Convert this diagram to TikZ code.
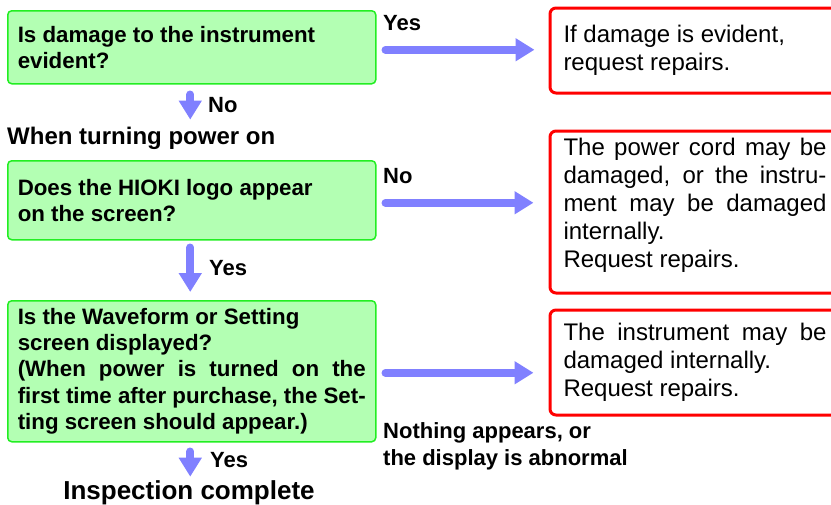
\documentclass[tikz,border=0pt]{standalone}
\usepackage{fontspec}
\setmainfont{Liberation Sans}
\usetikzlibrary{arrows.meta, positioning, calc}
\usepackage{xcolor}
\definecolor{CheckGreen}{HTML}{22EE22}
\definecolor{CheckFill}{HTML}{B3FFB3}
\definecolor{CheckRed}{HTML}{FF0000}
\definecolor{CheckArrow}{HTML}{8080FF}
\newcommand{\justline}[2][263pt]{\makebox[#1][s]{\spaceskip=0pt\xspaceskip=0pt #2}}
\tikzset{
    % Box styles - rounded corners
    question/.style={
        rectangle,
        rounded corners=4pt,
        draw=CheckGreen,
        fill=CheckFill,
        line width=1.5pt,
        text width=348pt,
        inner xsep=10pt,
        inner ysep=0pt,
        align=left,
        anchor=north west,
        execute at begin node={\spaceskip=0pt \xspaceskip=0pt},
        font=\bfseries\fontsize{22.3}{26.3}\selectfont
    },
    answer/.style={
        rectangle,
        rounded corners=6pt,
        draw=CheckRed,
        fill=white,
        line width=3pt,
        text width=263pt,
        inner xsep=13.5pt,
        inner ysep=0pt,
        align=left,
        anchor=north west,
        execute at begin node={\spaceskip=0pt \xspaceskip=0pt},
        font=\fontsize{24}{28}\selectfont
    },
    % Text styles
    branch/.style={
        inner sep=0pt,
        align=left,
        font=\bfseries\fontsize{22}{27}\selectfont
    },
    heading/.style={
        inner sep=0pt,
        font=\bfseries\fontsize{24}{28}\selectfont
    },
    % Arrow style - thick blue
    flowarrow/.style={
        -{Triangle[width=22pt,length=19pt]},
        line width=8pt,
        line cap=round,
        draw=CheckArrow
    }
}
\begin{document}
\begin{tikzpicture}[x=1pt, y=-1pt]
    \path[use as bounding box, clip] (0,0) rectangle (831,504);

    % Questions
    \node[question, minimum height=73pt] (q1) at (7,10) {Is damage to the instrument\\evident?};
    \node[heading, anchor=west] (power) at (7,138) {When turning power on};
    \node[question, minimum height=79pt] (q2) at (7,160) {Does the HIOKI logo appear\\on the screen?};
    \node[question, minimum height=141pt] (q3) at (7,300) {Is the Waveform or Setting\\screen displayed?\\\justline[348pt]{(When power is turned on the}\\\justline[348pt]{first time after purchase, the Set-}\\ting screen should appear.)};
    \node[heading, font=\bfseries\fontsize{26}{30}\selectfont] (done) at (189,493) {Inspection complete};

    % Results
    \node[answer, minimum height=85pt] (a1) at (548.5,6.5) {If damage is evident,\\request repairs.};
    \node[answer, minimum height=162pt] (a2) at (548.5,129.5) {\justline{The power cord may be}\\\justline{damaged, or the instru-}\\\justline{ment may be damaged}\\internally.\\Request repairs.\rule[-18pt]{0pt}{1pt}};
    \node[answer, minimum height=105pt] (a3) at (548.5,308.5) {\justline{The instrument may be}\\damaged internally.\\Request repairs.};

    % Arrows to results
    \coordinate (s1) at ([xshift=9pt, yshift=-2.5pt]q1.east);
    \coordinate (s2) at ([xshift=9pt, yshift=-2.5pt]q2.east);
    \coordinate (s3) at ([xshift=9pt, yshift=-1.5pt]q3.east);
    \draw[flowarrow, shorten >=14pt] (s1) -- (s1 -| a1.west);
    \draw[flowarrow, shorten >=15pt] (s2) -- (s2 -| a2.west);
    \draw[flowarrow, shorten >=15pt] (s3) -- (s3 -| a3.west);
    \node[branch, anchor=west] (yes1) at (383,23) {Yes};
    \node[branch, anchor=west] (no2) at (383,176) {No};
    \node[branch, anchor=west] (none3) at (383,446.5) {Nothing appears, or\\the display is abnormal};

    % Arrows down the checks
    \coordinate (c1) at ([xshift=-1.5pt]q1.south);
    \coordinate (c2) at ([xshift=-1.5pt]q2.south);
    \coordinate (c3) at ([xshift=-1.5pt]q3.south);
    \draw[flowarrow, shorten <=10pt, shorten >=7pt] (c1) -- (c1 |- power.north);
    \draw[flowarrow, shorten <=7pt, shorten >=8pt] (c2) -- (c2 |- q3.north);
    \draw[flowarrow, shorten <=9pt, shorten >=4pt] (c3) -- (c3 |- done.north);
    \node[branch, anchor=west] (no1) at (208,105) {No};
    \node[branch, anchor=west] (yes2) at (209,268) {Yes};
    \node[branch, anchor=west] (yes3) at (210,460) {Yes};
\end{tikzpicture}
\end{document}
